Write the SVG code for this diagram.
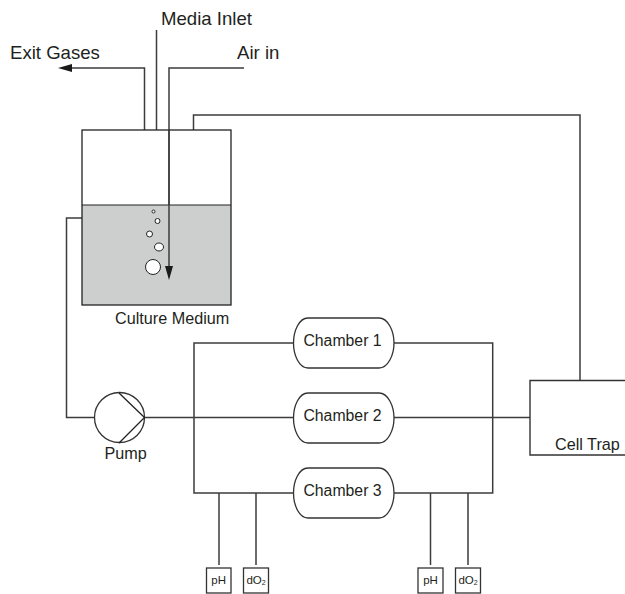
<svg xmlns="http://www.w3.org/2000/svg" width="625" height="594" viewBox="0 0 625 594">
<style>
text{font-family:"Liberation Sans",Arial,sans-serif;fill:#231f20}
.t{font-size:18.600px}.m{font-size:16.200px}.c{font-size:15.800px;text-anchor:middle}.s{font-size:11.500px;text-anchor:middle}
.l{fill:none;stroke:#3c3c3c;stroke-width:1.500}
.b{fill:#fff;stroke:#333;stroke-width:1.300}
.a{fill:#1a1a1a;stroke:none}
</style>
<rect width="625" height="594" fill="#fff"/>
<g id="connectors" class="l">
<path d="M144.500 130V68H70"/>
<path d="M156.500 30V130"/>
<path d="M244 68H169V270"/>
<path d="M193.500 130V115H580V380"/>
<path d="M82 218H66.500V417.500H95"/>
<path d="M144 417.500H530"/>
<path d="M293 343H194V493H293"/>
<path d="M394 343H492.700V493H394"/>
<path d="M219 493V565M256 493V565M430.500 493V565M468 493V565"/>
</g>
<g id="vessel">
<rect x="82" y="205" width="149" height="100" fill="#cdcfce"/>
<rect x="82" y="130" width="149" height="175" fill="none" stroke="#222" stroke-width="1.300"/>
<path d="M82 205H231" stroke="#222" stroke-width="1.100"/>
<path d="M169 130V270" class="l"/>
<g fill="#fff" stroke="#222" stroke-width="1">
<circle cx="153.500" cy="211.500" r="1.500"/><circle cx="157.500" cy="221" r="2.500"/><circle cx="149.500" cy="234" r="3"/><ellipse cx="159" cy="247" rx="4.500" ry="4"/><circle cx="153" cy="267" r="7.500"/>
</g>
<text x="115" y="323.500" class="m">Culture Medium</text>
</g>
<g id="arrowheads" class="a">
<path d="M58 68L72 64V72Z"/>
<path d="M169 280L165 266H173Z"/>
</g>
<g id="labels">
<text x="161" y="25" class="t">Media Inlet</text>
<text x="10" y="58.500" class="t">Exit Gases</text>
<text x="237" y="58.500" class="t">Air in</text>
</g>
<g id="pump">
<circle cx="119.500" cy="417.500" r="25" class="b"/>
<path d="M119 393L144.500 417.500L119 443" fill="none" stroke="#222" stroke-width="1.300"/>
<text x="104.500" y="459" class="m">Pump</text>
</g>
<g id="chamber1"><path d="M308 318H379C388 318 394 331 394 343C394 355 388 368 379 368H308C299 368 293.500 355 293.500 343C293.500 331 299 318 308 318Z" class="b"/><text x="342.500" y="346" class="c">Chamber 1</text></g>
<g id="chamber2"><path d="M308 393H379C388 393 394 406 394 418C394 430 388 443 379 443H308C299 443 293.500 430 293.500 418C293.500 406 299 393 308 393Z" class="b"/><text x="342.500" y="421" class="c">Chamber 2</text></g>
<g id="chamber3"><path d="M308 468H379C388 468 394 481 394 493C394 505 388 518 379 518H308C299 518 293.500 505 293.500 493C293.500 481 299 468 308 468Z" class="b"/><text x="342.500" y="496" class="c">Chamber 3</text></g>
<g id="celltrap"><path d="M625 380.500H530V455H625" fill="none" stroke="#333" stroke-width="1.400"/><text x="555" y="450" class="m">Cell Trap</text></g>
<g id="ph1"><rect x="206.500" y="568" width="24.500" height="25" class="b"/><text x="218.700" y="583.500" class="s">pH</text></g>
<g id="do1"><rect x="243.500" y="568" width="25" height="25" class="b"/><text x="256" y="583.500" class="s">dO<tspan font-size="7" dy="1.500">2</tspan></text></g>
<g id="ph2"><rect x="418" y="568" width="25" height="25" class="b"/><text x="430.500" y="583.500" class="s">pH</text></g>
<g id="do2"><rect x="455.500" y="568" width="25" height="25" class="b"/><text x="468" y="583.500" class="s">dO<tspan font-size="7" dy="1.500">2</tspan></text></g>
</svg>
